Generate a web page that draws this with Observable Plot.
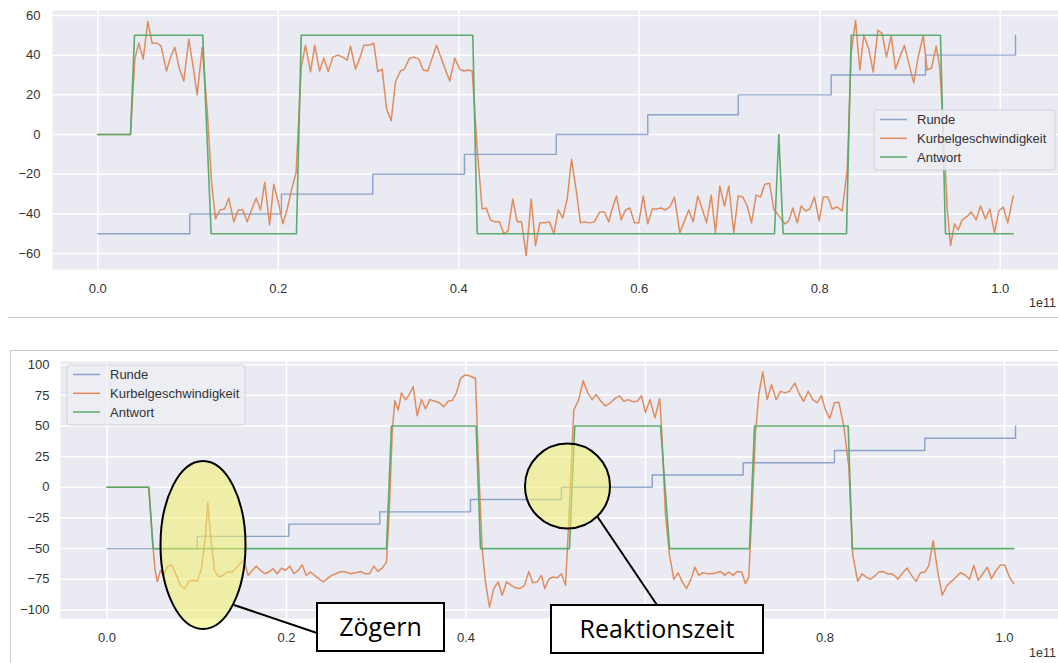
<!DOCTYPE html>
<html>
<head>
<meta charset="utf-8">
<script src="https://cdn.jsdelivr.net/npm/d3@7"></script>
<script src="https://cdn.jsdelivr.net/npm/@observablehq/plot@0.6"></script>
<style>
  html, body { margin: 0; padding: 0; background: #ffffff; }
  #page { position: relative; width: 1058px; height: 663px; overflow: hidden; background: #ffffff; }
  #top { position: absolute; left: 0; top: 0; }
  #bot { position: absolute; left: 0; top: 330px; }
  #overlay { position: absolute; left: 0; top: 0; }
</style>
</head>
<body>
<div id="page">
  <div id="top"></div>
  <div id="bot"></div>
  <svg id="overlay" width="1058" height="663"></svg>
</div>
<script>
// ---------- series names / colours ----------
const seriesNames = ["Runde", "Kurbelgeschwindigkeit", "Antwort"];
const seriesColors = ["#4C72B0", "#DD8452", "#55A868"];

// ---------- ticks ----------
const xTicks = [0, 0.2, 0.4, 0.6, 0.8, 1.0];
const yTicksTop = [-60, -40, -20, 0, 20, 40, 60];
const yTicksBot = [-100, -75, -50, -25, 0, 25, 50, 75, 100];
const xOffsetLabel = "1e11";

// ---------- TOP PANEL ----------
const topRundeT = [0, 0.1019, 0.2035, 0.3047, 0.4063, 0.5079, 0.6094, 0.7096, 0.8126, 0.9171, 1.0169];
const topRundeV = [-50, -40, -30, -20, -10, 0, 10, 20, 30, 40, 50];

const topAntwortT = [0, 0.0362, 0.0407, 0.1163, 0.1256, 0.2201, 0.2254, 0.4155, 0.4204, 0.7498, 0.7546, 0.7594, 0.8296, 0.8348, 0.9337, 0.9393, 1.0143];
const topAntwortV = [0, 0, 50, 50, -50, -50, 50, 50, -50, -50, 0, -50, -50, 50, 50, -50, -50];

const topKurbelT = [0, 0.0362, 0.0410, 0.0454, 0.0503, 0.0554, 0.0603, 0.0658, 0.0702, 0.0761, 0.0806, 0.0853, 0.0905, 0.0953, 0.1008, 0.1057, 0.1101, 0.1157, 0.1212, 0.1260, 0.1304, 0.1352, 0.1404, 0.1452, 0.1507, 0.1556, 0.1607, 0.1655, 0.1703, 0.1755, 0.1803, 0.1850, 0.1903, 0.1950, 0.1999, 0.2050, 0.2099, 0.2146, 0.2198, 0.2254, 0.2301, 0.2357, 0.2404, 0.2457, 0.2504, 0.2553, 0.2604, 0.2659, 0.2715, 0.2763, 0.2800, 0.2855, 0.2903, 0.2947, 0.3003, 0.3058, 0.3102, 0.3151, 0.3199, 0.3251, 0.3299, 0.3354, 0.3398, 0.3454, 0.3501, 0.3557, 0.3605, 0.3657, 0.3705, 0.3753, 0.3805, 0.3853, 0.3900, 0.3956, 0.4008, 0.4055, 0.4104, 0.4148, 0.4204, 0.4259, 0.4304, 0.4351, 0.4399, 0.4451, 0.4499, 0.4547, 0.4598, 0.4647, 0.4695, 0.4747, 0.4802, 0.4850, 0.4898, 0.4949, 0.5005, 0.5053, 0.5101, 0.5152, 0.5201, 0.5249, 0.5301, 0.5348, 0.5396, 0.5448, 0.5502, 0.5562, 0.5614, 0.5662, 0.5699, 0.5747, 0.5799, 0.5847, 0.5895, 0.5947, 0.5994, 0.6043, 0.6094, 0.6143, 0.6190, 0.6243, 0.6290, 0.6338, 0.6390, 0.6449, 0.6501, 0.6548, 0.6597, 0.6648, 0.6697, 0.6745, 0.6797, 0.6844, 0.6892, 0.6944, 0.6992, 0.7047, 0.7096, 0.7147, 0.7196, 0.7243, 0.7295, 0.7343, 0.7391, 0.7443, 0.7490, 0.7546, 0.7612, 0.7657, 0.7701, 0.7750, 0.7794, 0.7842, 0.7889, 0.7941, 0.7993, 0.8038, 0.8089, 0.8137, 0.8193, 0.8248, 0.8304, 0.8348, 0.8396, 0.8443, 0.8488, 0.8543, 0.8592, 0.8643, 0.8691, 0.8739, 0.8791, 0.8839, 0.8886, 0.8938, 0.8986, 0.9041, 0.9090, 0.9146, 0.9190, 0.9238, 0.9290, 0.9330, 0.9374, 0.9412, 0.9449, 0.9493, 0.9534, 0.9578, 0.9626, 0.9678, 0.9733, 0.9781, 0.9836, 0.9884, 0.9936, 0.9983, 1.0032, 1.0083, 1.0143];
const topKurbelV = [0, 0, 38, 46, 38, 57, 46, 46, 44.5, 32, 39, 44, 33, 27, 48, 34, 20, 44, 12.5, -24, -42.5, -38, -37.5, -32, -44, -38, -38, -44, -38, -32, -38, -24, -45.5, -25, -34, -45, -37.5, -28, -19, 34, 45, 31.6, 45, 32, 38.5, 31.7, 39, 40, 39, 37.5, 44.5, 33, 38.5, 45, 45, 46, 31.7, 33, 13, 7, 26.7, 32, 33, 38.5, 39, 38, 32.5, 32, 38.5, 45, 38.5, 32.5, 27, 38.5, 33, 32, 32.5, 32, -7.5, -37.5, -37, -43, -44, -44, -50, -48.5, -32.5, -44, -44, -61, -32.5, -56, -44.5, -44.5, -44, -50, -38, -42, -32.5, -12.5, -28, -44.5, -44, -44.5, -44, -39, -39, -44, -37.5, -31, -43, -38, -37, -44.5, -44.5, -31, -45, -37.5, -37.5, -37, -38, -36.5, -31.5, -49.5, -43.5, -38, -44, -31, -37.5, -44.5, -30.5, -49.5, -26, -36, -26, -49.5, -31, -31.5, -36, -44.5, -30.5, -31.5, -25, -24.5, -37.5, -41, -45, -43.5, -37, -44.5, -36, -38.5, -37.5, -31.5, -43.5, -31.5, -31.5, -37.5, -36.5, -38.5, -17.5, 41, 57.5, 32.5, 50, 43, 31.5, 52.5, 51, 39, 50, 33, 39, 45, 36, 26, 39, 50, 32.5, 33.5, 44.5, 33.5, -1, -37.5, -56, -45, -48, -43, -41.5, -39, -43, -36, -42.5, -37.5, -49.5, -38.5, -36.5, -44.5, -31];

// ---------- BOTTOM PANEL ----------
const botRundeT = [0, 0.1005, 0.2026, 0.3040, 0.4050, 0.5064, 0.6075, 0.7089, 0.8106, 0.9112, 1.0123];
const botRundeV = [-50, -40, -30, -20, -10, 0, 10, 20, 30, 40, 50];

const botAntwortT = [0, 0.0466, 0.0515, 0.3114, 0.3170, 0.4113, 0.4162, 0.5153, 0.5212, 0.6168, 0.6268, 0.7159, 0.7215, 0.8259, 0.8303, 1.0106];
const botAntwortV = [0, 0, -50, -50, 50, 50, -50, -50, 50, 50, -50, -50, 50, 50, -50, -50];

const botKurbelT = [0, 0.0466, 0.0503, 0.0533, 0.0559, 0.0596, 0.0633, 0.0670, 0.0719, 0.0763, 0.0819, 0.0867, 0.0912, 0.0960, 0.1005, 0.1053, 0.1097, 0.1123, 0.1153, 0.1198, 0.1246, 0.1295, 0.1339, 0.1395, 0.1432, 0.1480, 0.1524, 0.1573, 0.1618, 0.1666, 0.1710, 0.1758, 0.1803, 0.1852, 0.1896, 0.1944, 0.1989, 0.2037, 0.2082, 0.2130, 0.2175, 0.2220, 0.2268, 0.2312, 0.2360, 0.2410, 0.2454, 0.2502, 0.2547, 0.2594, 0.2638, 0.2713, 0.2769, 0.2824, 0.2873, 0.2925, 0.2973, 0.3018, 0.3066, 0.3114, 0.3148, 0.3178, 0.3207, 0.3245, 0.3281, 0.3326, 0.3369, 0.3412, 0.3456, 0.3504, 0.3549, 0.3597, 0.3652, 0.3705, 0.3753, 0.3802, 0.3846, 0.3894, 0.3939, 0.3987, 0.4039, 0.4106, 0.4136, 0.4180, 0.4217, 0.4262, 0.4310, 0.4359, 0.4403, 0.4451, 0.4504, 0.4552, 0.4600, 0.4652, 0.4700, 0.4744, 0.4793, 0.4841, 0.4878, 0.4922, 0.4967, 0.5016, 0.5064, 0.5109, 0.5145, 0.5201, 0.5257, 0.5306, 0.5357, 0.5407, 0.5451, 0.5499, 0.5554, 0.5610, 0.5659, 0.5711, 0.5759, 0.5808, 0.5859, 0.5909, 0.5955, 0.6000, 0.6050, 0.6105, 0.6158, 0.6180, 0.6223, 0.6268, 0.6316, 0.6365, 0.6410, 0.6457, 0.6510, 0.6549, 0.6594, 0.6643, 0.6694, 0.6743, 0.6788, 0.6836, 0.6884, 0.6928, 0.6977, 0.7022, 0.7070, 0.7114, 0.7151, 0.7189, 0.7226, 0.7263, 0.7307, 0.7356, 0.7404, 0.7457, 0.7504, 0.7553, 0.7604, 0.7663, 0.7716, 0.7764, 0.7813, 0.7864, 0.7913, 0.7961, 0.8006, 0.8054, 0.8106, 0.8154, 0.8210, 0.8265, 0.8310, 0.8365, 0.8415, 0.8459, 0.8507, 0.8555, 0.8600, 0.8644, 0.8693, 0.8741, 0.8776, 0.8811, 0.8867, 0.8916, 0.8964, 0.9016, 0.9064, 0.9112, 0.9157, 0.9206, 0.9257, 0.9306, 0.9362, 0.9409, 0.9462, 0.9510, 0.9558, 0.9610, 0.9658, 0.9707, 0.9758, 0.9808, 0.9855, 0.9908, 0.9955, 1.0003, 1.0056, 1.0104];
const botKurbelV = [0, 0, -40, -66, -77, -68, -72, -65, -63, -70, -80, -82.6, -76.7, -75.8, -76.7, -66.4, -39.4, -12.2, -39.4, -67.8, -73.2, -71.8, -69.1, -69.1, -66.4, -62.4, -58.9, -71.8, -67.8, -64.3, -67.8, -70.5, -69.1, -66.4, -70.5, -65.9, -67.8, -64.3, -70.5, -67.8, -63.3, -71.8, -69.1, -71.8, -74.5, -77.2, -74.5, -71.8, -70.5, -69.1, -68.6, -70.5, -69.7, -68.6, -70.5, -70.5, -64.3, -68.6, -65.9, -61, -15, 44.8, 70.6, 63, 77, 71.5, 75.7, 82.2, 58.4, 71.5, 63.9, 71.5, 70.2, 68.9, 65.7, 70.2, 70.7, 77, 88.7, 91.5, 91, 88.7, 25.8, -50, -77.2, -97.7, -82.6, -77.2, -88, -77.2, -79.9, -82, -82.6, -79.9, -68.6, -77.8, -77.2, -71.8, -82.6, -75, -73.2, -74, -70.5, -79.9, -28.6, 63, 71.5, 86.9, 77, 71.5, 75.7, 70.5, 66.4, 68.9, 72.3, 74.5, 70.2, 71.5, 69.7, 70.2, 74.8, 61, 71.5, 56.6, 72.3, 47.7, -22.8, -55.4, -75, -69.7, -77.2, -82.6, -74.5, -65.1, -71.8, -69.7, -70.5, -70.5, -69.7, -68.6, -71.8, -69.1, -71.8, -68.6, -69.1, -78.5, -73.2, -15, 44.8, 75.7, 94.2, 71.5, 83.7, 71.5, 78.3, 77, 78.3, 85, 75.7, 70.2, 78.3, 71.5, 68.9, 74.8, 63, 56.2, 68.9, 69.4, 49.9, 17, -55.4, -76.7, -70.5, -73.2, -75, -72.3, -69.1, -68.6, -70.5, -70.5, -72, -75, -69.7, -65.9, -71.8, -76.7, -69.7, -69.1, -63.8, -43.5, -69.1, -88, -79.9, -76.7, -73.2, -69.7, -71.3, -75, -63.8, -75.8, -70.5, -65.1, -74.5, -67.8, -63.3, -63.3, -73.2, -78.5];

// ---------- annotation texts ----------
const noteHesitation = "Zögern";
const noteReaction = "Reaktionszeit";

// ---------- helpers ----------
const zip = (T, V) => T.map((t, i) => ({t, v: V[i]}));
const fontFamily = "'Liberation Sans', Arial, sans-serif";

function panel({width, height, marginLeft, marginTop, marginBottom, xDomain, yDomain, yTicks, runde, kurbel, antwort, yPad}) {
  return Plot.plot({
    width, height, marginLeft, marginRight: 0, marginTop, marginBottom,
    style: {fontFamily, fontSize: "13px", color: "#333333", background: "transparent", overflow: "visible"},
    x: {domain: xDomain, ticks: xTicks, tickFormat: d3.format(".1f"), tickSize: 0, tickPadding: 14, label: null, line: false},
    y: {domain: yDomain, ticks: yTicks, tickFormat: d3.format(""), tickSize: 0, tickPadding: yPad, label: null, line: false},
    marks: [
      Plot.frame({fill: "#eaeaf2", stroke: "none"}),
      Plot.ruleX(xTicks, {stroke: "#ffffff", strokeWidth: 1.5}),
      Plot.ruleY(yTicks, {stroke: "#ffffff", strokeWidth: 1.5}),
      Plot.line(runde, {x: "t", y: "v", curve: "step-after", stroke: seriesColors[0], strokeWidth: 1.4, strokeOpacity: 0.6}),
      Plot.line(kurbel, {x: "t", y: "v", stroke: seriesColors[1], strokeWidth: 1.5, strokeOpacity: 0.92}),
      Plot.line(antwort, {x: "t", y: "v", stroke: seriesColors[2], strokeWidth: 1.6, strokeOpacity: 0.95})
    ]
  });
}

document.getElementById("top").appendChild(panel({
  width: 1058, height: 330, marginLeft: 52, marginTop: 10, marginBottom: 61,
  xDomain: [-0.0502, 1.0645], yDomain: [-68, 62.5], yTicks: yTicksTop, yPad: 12,
  runde: zip(topRundeT, topRundeV), kurbel: zip(topKurbelT, topKurbelV), antwort: zip(topAntwortT, topAntwortV)
}));

document.getElementById("bot").appendChild(panel({
  width: 1058, height: 333, marginLeft: 60, marginTop: 31, marginBottom: 45,
  xDomain: [-0.0518, 1.0602], yDomain: [-107, 102.6], yTicks: yTicksBot, yPad: 11,
  runde: zip(botRundeT, botRundeV), kurbel: zip(botKurbelT, botKurbelV), antwort: zip(botAntwortT, botAntwortV)
}));

// ---------- overlay: frames, legends, offset labels, annotations ----------
const svg = d3.select("#overlay");

// screenshot separators
svg.append("line").attr("x1", 8).attr("y1", 317.5).attr("x2", 1058).attr("y2", 317.5).attr("stroke", "#c4c4c4").attr("stroke-width", 1);
svg.append("line").attr("x1", 10).attr("y1", 350.5).attr("x2", 1058).attr("y2", 350.5).attr("stroke", "#c4c4c4").attr("stroke-width", 1);
svg.append("line").attr("x1", 10.5).attr("y1", 350).attr("x2", 10.5).attr("y2", 663).attr("stroke", "#d0d0d0").attr("stroke-width", 1);

// offset labels
[[1056, 306.5], [1056, 656.5]].forEach(([x, y]) => {
  svg.append("text").attr("x", x).attr("y", y).attr("text-anchor", "end").attr("font-family", fontFamily).attr("font-size", 12.5).attr("fill", "#333333").text(xOffsetLabel);
});

function legend(x, y, w, h) {
  const g = svg.append("g");
  g.append("rect").attr("x", x).attr("y", y).attr("width", w).attr("height", h).attr("rx", 3)
    .attr("fill", "#ededf4").attr("fill-opacity", 0.85).attr("stroke", "#d2d2da").attr("stroke-width", 1);
  const rows = [9.5, 28.3, 47];
  seriesNames.forEach((name, i) => {
    const yy = y + rows[i];
    g.append("line").attr("x1", x + 6).attr("x2", x + 33).attr("y1", yy).attr("y2", yy)
      .attr("stroke", seriesColors[i]).attr("stroke-width", 1.5).attr("stroke-opacity", i === 0 ? 0.6 : 0.95);
    g.append("text").attr("x", x + 43).attr("y", yy).attr("dy", "0.35em")
      .attr("font-family", fontFamily).attr("font-size", 13).attr("fill", "#333333").text(name);
  });
}
legend(874, 110, 181, 60);
legend(67, 365, 178, 60);

// annotations
const ann = svg.append("g");
ann.append("ellipse").attr("cx", 203).attr("cy", 545).attr("rx", 42.5).attr("ry", 84)
  .attr("fill", "rgb(240,240,110)").attr("fill-opacity", 0.55).attr("stroke", "#000").attr("stroke-width", 2);
ann.append("line").attr("x1", 234).attr("y1", 605).attr("x2", 317).attr("y2", 633).attr("stroke", "#000").attr("stroke-width", 2);
ann.append("rect").attr("x", 317).attr("y", 603).attr("width", 127).attr("height", 48)
  .attr("fill", "#fff").attr("stroke", "#000").attr("stroke-width", 2);
ann.append("text").attr("x", 380.5).attr("y", 636).attr("text-anchor", "middle")
  .attr("font-family", "'Open Sans', 'Noto Sans', sans-serif").attr("font-size", 25).attr("fill", "#000").text(noteHesitation);

ann.append("circle").attr("cx", 567.5).attr("cy", 486).attr("r", 42.5)
  .attr("fill", "rgb(240,240,110)").attr("fill-opacity", 0.55).attr("stroke", "#000").attr("stroke-width", 2);
ann.append("line").attr("x1", 597).attr("y1", 516).attr("x2", 657).attr("y2", 605).attr("stroke", "#000").attr("stroke-width", 2);
ann.append("rect").attr("x", 551).attr("y", 605).attr("width", 212).attr("height", 48)
  .attr("fill", "#fff").attr("stroke", "#000").attr("stroke-width", 2);
ann.append("text").attr("x", 657).attr("y", 638).attr("text-anchor", "middle")
  .attr("font-family", "'Open Sans', 'Noto Sans', sans-serif").attr("font-size", 25).attr("fill", "#000").text(noteReaction);
</script>
</body>
</html>
